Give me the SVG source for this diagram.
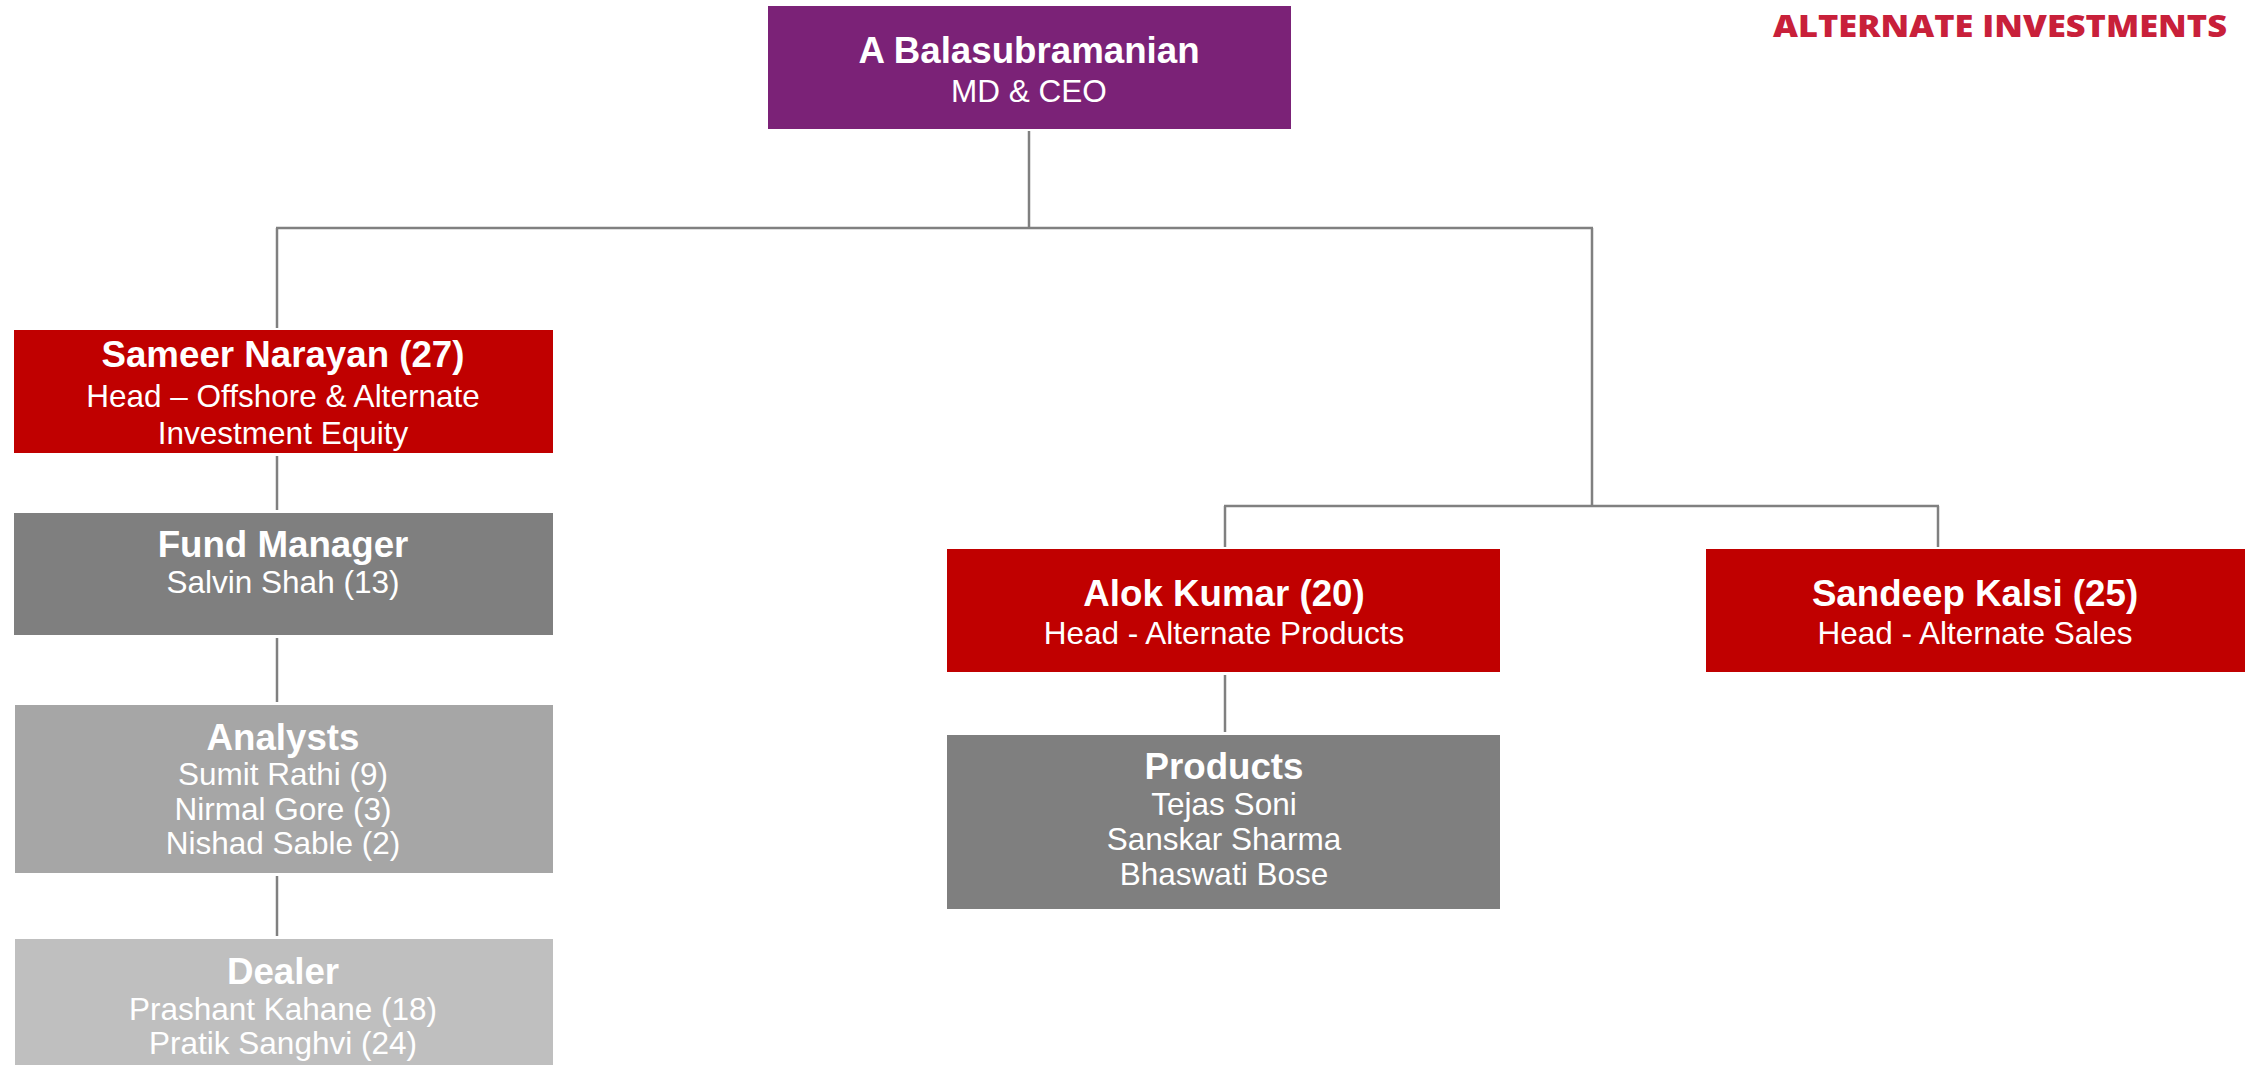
<svg xmlns="http://www.w3.org/2000/svg" width="2248" height="1065" viewBox="0 0 2248 1065">
<style>
text{font-family:"Liberation Sans",Arial,sans-serif;fill:#fff;text-anchor:middle}
.b{font-weight:bold;font-size:36.7px}
.r{font-size:31.5px}
.con line{stroke:#808080;stroke-width:2.5;fill:none}
</style>
<rect width="2248" height="1065" fill="#fff"/>
<text x="2227" y="37" style="font-family:'Open Sans','Liberation Sans',sans-serif;font-weight:800;font-size:30px;fill:#C8203A;text-anchor:end" textLength="454" lengthAdjust="spacingAndGlyphs">ALTERNATE INVESTMENTS</text>
<g class="con" id="connectors">
<line x1="1029" y1="131" x2="1029" y2="228"/>
<line x1="276" y1="228" x2="1593" y2="228"/>
<line x1="277" y1="228" x2="277" y2="328"/>
<line x1="1592" y1="228" x2="1592" y2="506"/>
<line x1="1224" y1="506" x2="1939" y2="506"/>
<line x1="1225" y1="506" x2="1225" y2="547"/>
<line x1="1938" y1="506" x2="1938" y2="547"/>
<line x1="277" y1="456" x2="277" y2="510"/>
<line x1="277" y1="638" x2="277" y2="702"/>
<line x1="277" y1="876" x2="277" y2="936"/>
<line x1="1225" y1="675" x2="1225" y2="732"/>
</g>
<g id="ceo">
<rect x="768" y="6" width="523" height="123" fill="#7B2277"/>
<text class="b" x="1029" y="63">A Balasubramanian</text>
<text class="r" x="1029" y="102">MD &amp; CEO</text>
</g>
<g id="sameer">
<rect x="14" y="330" width="539" height="123" fill="#C00000"/>
<text class="b" x="283" y="367">Sameer Narayan (27)</text>
<text class="r" x="283" y="407">Head – Offshore &amp; Alternate</text>
<text class="r" x="283" y="444">Investment Equity</text>
</g>
<g id="fundmanager">
<rect x="14" y="513" width="539" height="122" fill="#7F7F7F"/>
<text class="b" x="283" y="557">Fund Manager</text>
<text class="r" x="283" y="593">Salvin Shah (13)</text>
</g>
<g id="analysts">
<rect x="15" y="705" width="538" height="168" fill="#A6A6A6"/>
<text class="b" x="283" y="750">Analysts</text>
<text class="r" x="283" y="785">Sumit Rathi (9)</text>
<text class="r" x="283" y="820">Nirmal Gore (3)</text>
<text class="r" x="283" y="854">Nishad Sable (2)</text>
</g>
<g id="dealer">
<rect x="15" y="939" width="538" height="126" fill="#BFBFBF"/>
<text class="b" x="283" y="984">Dealer</text>
<text class="r" x="283" y="1020">Prashant Kahane (18)</text>
<text class="r" x="283" y="1054">Pratik Sanghvi (24)</text>
</g>
<g id="alok">
<rect x="947" y="549" width="553" height="123" fill="#C00000"/>
<text class="b" x="1224" y="606">Alok Kumar (20)</text>
<text class="r" x="1224" y="644">Head - Alternate Products</text>
</g>
<g id="sandeep">
<rect x="1706" y="549" width="539" height="123" fill="#C00000"/>
<text class="b" x="1975" y="606">Sandeep Kalsi (25)</text>
<text class="r" x="1975" y="644">Head - Alternate Sales</text>
</g>
<g id="products">
<rect x="947" y="735" width="553" height="174" fill="#7F7F7F"/>
<text class="b" x="1224" y="779">Products</text>
<text class="r" x="1224" y="815">Tejas Soni</text>
<text class="r" x="1224" y="850">Sanskar Sharma</text>
<text class="r" x="1224" y="885">Bhaswati Bose</text>
</g>
</svg>
